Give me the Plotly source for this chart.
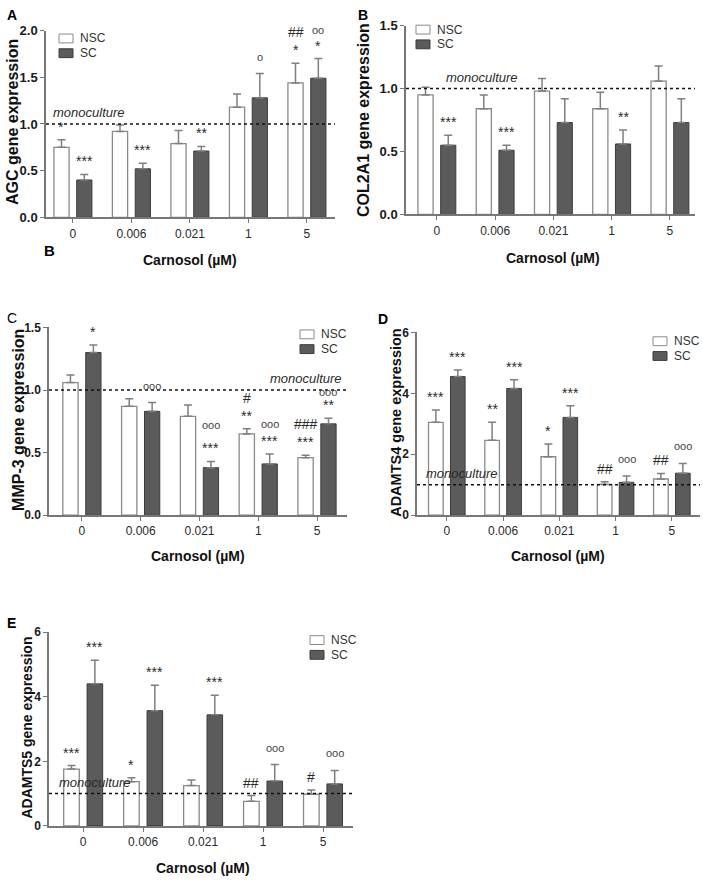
import plotly.graph_objects as go

# ---------------- data ----------------
categories = ["0", "0.006", "0.021", "1", "5"]

agc_nsc = [0.75, 0.92, 0.79, 1.18, 1.44]
agc_nsc_err = [0.08, 0.07, 0.14, 0.14, 0.21]
agc_sc = [0.40, 0.52, 0.71, 1.28, 1.49]
agc_sc_err = [0.06, 0.06, 0.05, 0.26, 0.21]
agc_nsc_sig = ["*", "", "", "", "##|*"]
agc_sc_sig = ["***", "***", "**", "o", "oo|*"]

col_nsc = [0.95, 0.84, 0.98, 0.84, 1.06]
col_nsc_err = [0.06, 0.11, 0.10, 0.13, 0.12]
col_sc = [0.55, 0.51, 0.73, 0.56, 0.73]
col_sc_err = [0.08, 0.04, 0.19, 0.11, 0.19]
col_nsc_sig = ["", "", "", "", ""]
col_sc_sig = ["***", "***", "", "**", ""]

mmp_nsc = [1.06, 0.87, 0.79, 0.65, 0.46]
mmp_nsc_err = [0.06, 0.06, 0.09, 0.04, 0.02]
mmp_sc = [1.30, 0.83, 0.38, 0.41, 0.73]
mmp_sc_err = [0.06, 0.07, 0.05, 0.08, 0.045]
mmp_nsc_sig = ["", "", "", "#|**", "###|***"]
mmp_sc_sig = ["*", "ooo", "ooo|***", "ooo|***", "ooo|**"]

a4_nsc = [3.05, 2.46, 1.92, 1.01, 1.19]
a4_nsc_err = [0.40, 0.59, 0.42, 0.09, 0.18]
a4_sc = [4.55, 4.16, 3.21, 1.08, 1.38]
a4_sc_err = [0.22, 0.29, 0.38, 0.21, 0.32]
a4_nsc_sig = ["***", "**", "*", "##", "##"]
a4_sc_sig = ["***", "***", "***", "ooo", "ooo"]

a5_nsc = [1.76, 1.37, 1.25, 0.76, 0.98]
a5_nsc_err = [0.11, 0.12, 0.17, 0.18, 0.13]
a5_sc = [4.40, 3.57, 3.44, 1.39, 1.30]
a5_sc_err = [0.73, 0.79, 0.61, 0.51, 0.42]
a5_nsc_sig = ["***", "*", "", "##", "#"]
a5_sc_sig = ["***", "***", "***", "ooo", "ooo"]

# ---------------- layout helpers ----------------
W, H = 703, 886
FONT = "Liberation Sans, Arial, sans-serif"


def fx(x):
    return x / W


def fy(y):
    return 1 - y / H


panels = [
    dict(label="A", bold=True, lab_xy=(5, 8), nsc=agc_nsc, nsc_err=agc_nsc_err, sc=agc_sc, sc_err=agc_sc_err,
         nsc_sig=agc_nsc_sig, sc_sig=agc_sc_sig, ytitle="AGC gene expression", yts=16,
         x0=46, x1=335, yt=24, yb=214, xr=[-0.46, 4.48], yr=[0, 2.0], dtick=0.5, fmt=".1f", tfs=13,
         yt_xy=(12, 117), xt_xy=(190, 257), leg=(59, 32), mono=(51, "left")),
    dict(label="B", bold=True, lab_xy=(356, 8), nsc=col_nsc, nsc_err=col_nsc_err, sc=col_sc, sc_err=col_sc_err,
         nsc_sig=col_nsc_sig, sc_sig=col_sc_sig, ytitle="COL2A1 gene expression", yts=16,
         x0=406, x1=695, yt=19, yb=211, xr=[-0.53, 4.43], yr=[0, 1.5], dtick=0.5, fmt=".1f", tfs=13,
         yt_xy=(363, 115), xt_xy=(553, 255), leg=(416, 23), mono=(444, "left")),
    dict(label="C", bold=False, lab_xy=(5, 316), nsc=mmp_nsc, nsc_err=mmp_nsc_err, sc=mmp_sc, sc_err=mmp_sc_err,
         nsc_sig=mmp_nsc_sig, sc_sig=mmp_sc_sig, ytitle="MMP-3 gene expression", yts=16,
         x0=49, x1=347, yt=326, yb=517, xr=[-0.56, 4.51], yr=[0, 1.5], dtick=0.5, fmt=".1f", tfs=12,
         yt_xy=(19, 420), xt_xy=(198, 558), leg=(300, 333), mono=(344, "right")),
    dict(label="D", bold=True, lab_xy=(376, 317), nsc=a4_nsc, nsc_err=a4_nsc_err, sc=a4_sc, sc_err=a4_sc_err,
         nsc_sig=a4_nsc_sig, sc_sig=a4_sc_sig, ytitle="ADAMTS4 gene expression", yts=14.5,
         x0=417, x1=700, yt=331, yb=517, xr=[-0.53, 4.5], yr=[0, 6], dtick=2, fmt="d", tfs=12,
         yt_xy=(396, 423), xt_xy=(558, 558), leg=(653, 340), mono=(424, "left")),
    dict(label="E", bold=True, lab_xy=(5, 627), nsc=a5_nsc, nsc_err=a5_nsc_err, sc=a5_sc, sc_err=a5_sc_err,
         nsc_sig=a5_nsc_sig, sc_sig=a5_sc_sig, ytitle="ADAMTS5 gene expression", yts=14,
         x0=49, x1=353, yt=636, yb=833, xr=[-0.57, 4.5], yr=[0, 6], dtick=2, fmt="d", tfs=12,
         yt_xy=(27, 733), xt_xy=(203, 876), leg=(310, 644), mono=(57, "left")),
]

# vertical step (px) between the star line and the circle line above it
CIRC_GAP = {("C", "sc", 2): 25, ("C", "sc", 3): 19, ("C", "sc", 4): 15}

NSC_FILL, NSC_LINE = "#ffffff", "#8a8a8a"
SC_FILL, SC_LINE = "#5b5b5b", "#3c3c3c"
ERR_COL = "#7f7f7f"
TXT = "#2a2a2a"

fig = go.Figure()
annotations = []
shapes = []
layout_axes = {}

idx = list(range(len(categories)))
OFF = 0.195
BW = 0.26

for k, p in enumerate(panels):
    n = "" if k == 0 else str(k + 1)
    xa, ya = "x" + n, "y" + n
    x_nsc = [i - OFF for i in idx]
    x_sc = [i + OFF for i in idx]
    fig.add_trace(go.Bar(
        x=x_nsc, y=p["nsc"], width=BW, xaxis=xa, yaxis=ya, name="NSC", showlegend=False,
        marker=dict(color=NSC_FILL, line=dict(color=NSC_LINE, width=1.3)),
        error_y=dict(type="data", array=p["nsc_err"], arrayminus=[0] * 5, symmetric=False,
                     color=ERR_COL, thickness=1.5, width=4),
    ))
    fig.add_trace(go.Bar(
        x=x_sc, y=p["sc"], width=BW, xaxis=xa, yaxis=ya, name="SC", showlegend=False,
        marker=dict(color=SC_FILL, line=dict(color=SC_LINE, width=1)),
        error_y=dict(type="data", array=p["sc_err"], arrayminus=[0] * 5, symmetric=False,
                     color=ERR_COL, thickness=1.5, width=4),
    ))
    # significance marks (stacked lines, bottom line first)
    for ser, xs, vals, errs, sigs in (("nsc", x_nsc, p["nsc"], p["nsc_err"], p["nsc_sig"]),
                                      ("sc", x_sc, p["sc"], p["sc_err"], p["sc_sig"])):
        for i, (xv, v, e, s) in enumerate(zip(xs, vals, errs, sigs)):
            if not s:
                continue
            lines = s.split("|")[::-1]
            shift = 0
            for j, line in enumerate(lines):
                circ = line.startswith("o")
                if j == 0:
                    shift = 9 if circ else 3
                else:
                    shift += CIRC_GAP.get((p["label"], ser, i), 18) if circ else 18
                annotations.append(dict(
                    x=xv, y=v + e, xref=xa, yref=ya, text=line, showarrow=False,
                    yanchor="bottom", yshift=shift,
                    font=dict(family=FONT, size=11 if circ else 14,
                              color="#444" if circ else TXT)))
    # axes
    layout_axes["xaxis" + n] = dict(
        domain=[fx(p["x0"]), fx(p["x1"])], anchor=ya, range=p["xr"],
        tickvals=idx, ticktext=categories, ticks="outside", ticklen=4, tickwidth=1.3,
        tickcolor="#777", showline=True, linecolor="#777", linewidth=1.5,
        showgrid=False, zeroline=False,
        tickfont=dict(family=FONT, size=12, color=TXT),
    )
    layout_axes["yaxis" + n] = dict(
        domain=[fy(p["yb"]), fy(p["yt"])], anchor=xa, range=p["yr"], dtick=p["dtick"],
        tickformat=p["fmt"], ticks="outside", ticklen=4, tickwidth=1.3, tickcolor="#777",
        showline=True, linecolor="#777", linewidth=1.5, showgrid=False, zeroline=False,
        tickfont=dict(family=FONT, size=p["tfs"], color="#1a1a1a", weight="bold"),
    )
    # monoculture dotted line
    shapes.append(dict(type="line", xref=xa + " domain", yref=ya, x0=0, x1=1, y0=1, y1=1,
                       line=dict(color="#111", width=1.5, dash="dot")))
    mx, side = p["mono"]
    annotations.append(dict(x=fx(mx), y=1, xref="paper", yref=ya, text="<i>monoculture</i>",
                            showarrow=False, xanchor=side, yanchor="bottom", yshift=2,
                            font=dict(family=FONT, size=13, color=TXT)))
    # legend
    bx, by = p["leg"]
    for j, (nm, fc, lc) in enumerate((("NSC", NSC_FILL, NSC_LINE), ("SC", SC_FILL, SC_LINE))):
        yc = by + j * 15
        shapes.append(dict(type="rect", xref="paper", yref="paper",
                           x0=fx(bx), x1=fx(bx + 14), y0=fy(yc + 4.5), y1=fy(yc - 4.5),
                           fillcolor=fc, line=dict(color=lc, width=1)))
        annotations.append(dict(x=fx(bx + 19), y=fy(yc), xref="paper", yref="paper", text=nm,
                                showarrow=False, xanchor="left", yanchor="middle",
                                font=dict(family=FONT, size=12, color="#333")))
    # titles
    tx, ty = p["yt_xy"]
    annotations.append(dict(x=fx(tx), y=fy(ty), xref="paper", yref="paper", text="<b>" + p["ytitle"] + "</b>",
                            textangle=-90, showarrow=False, xanchor="center", yanchor="middle",
                            font=dict(family=FONT, size=p["yts"], color="#111")))
    tx, ty = p["xt_xy"]
    annotations.append(dict(x=fx(tx), y=fy(ty), xref="paper", yref="paper", text="<b>Carnosol (µM)</b>",
                            showarrow=False, xanchor="center", yanchor="middle",
                            font=dict(family=FONT, size=14, color="#111")))
    lx, ly = p["lab_xy"]
    lab = "<b>" + p["label"] + "</b>" if p["bold"] else p["label"]
    annotations.append(dict(x=fx(lx), y=fy(ly), xref="paper", yref="paper", text=lab,
                            showarrow=False, xanchor="left", yanchor="middle",
                            font=dict(family=FONT, size=14, color="#000")))

# stray "B" label under panel A, as in the original figure
annotations.append(dict(x=fx(42), y=fy(248), xref="paper", yref="paper", text="<b>B</b>",
                        showarrow=False, xanchor="left", yanchor="middle",
                        font=dict(family=FONT, size=15, color="#000")))

fig.update_layout(
    width=W, height=H, margin=dict(l=0, r=0, t=0, b=0),
    paper_bgcolor="white", plot_bgcolor="white", barmode="overlay",
    annotations=annotations, shapes=shapes, showlegend=False,
    **layout_axes,
)

fig.write_html("out.html", config={"displayModeBar": False},
               post_script="document.body.style.margin='0';document.body.style.padding='0';")
